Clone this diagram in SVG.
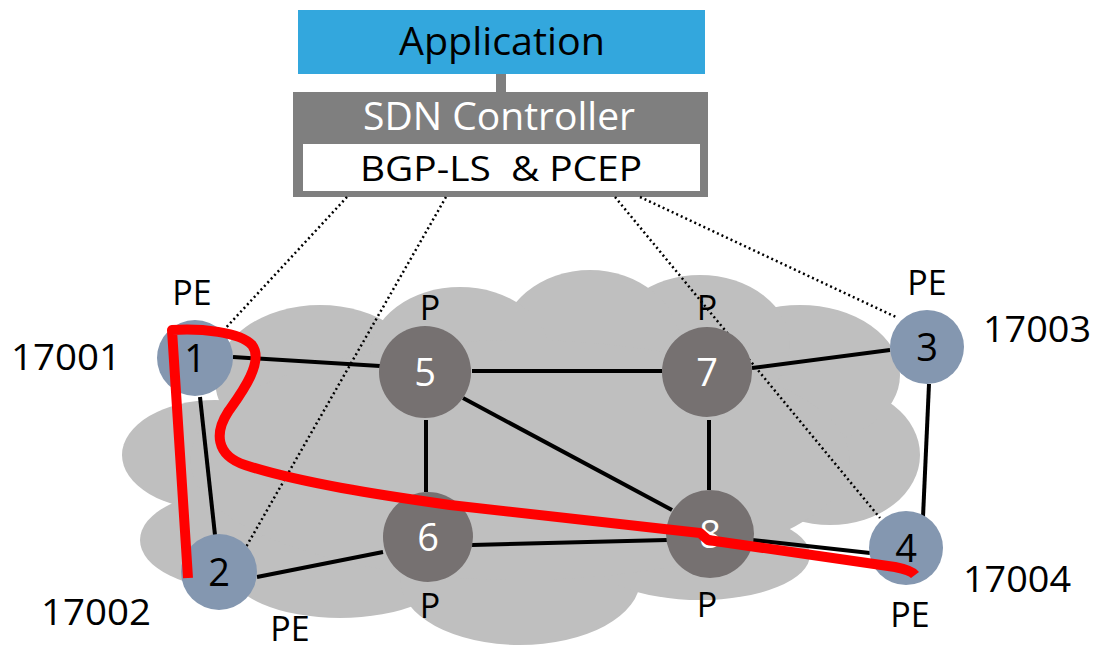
<svg xmlns="http://www.w3.org/2000/svg" width="1101" height="649" viewBox="0 0 1101 649">
  <style>
    .lbl { font-family: "Open Sans", "Liberation Sans", sans-serif; fill: #000; text-anchor: middle; }
    .num { font-size: 36px; }
    .role { font-size: 34px; }
    .pe circle { fill: #8497b0; }
    .p circle { fill: #767171; }
    .pe text { font-family: "Open Sans", "Liberation Sans", sans-serif; font-size: 38px; fill: #000; text-anchor: middle; }
    .p text { font-family: "Open Sans", "Liberation Sans", sans-serif; font-size: 38px; fill: #fff; text-anchor: middle; }
    .link { stroke: #000; stroke-width: 4; fill: none; }
    .mgmt { stroke: #000; stroke-width: 2.5; stroke-dasharray: 2 3; fill: none; }
  </style>

  <rect width="1101" height="649" fill="#fff"/>

  <!-- provider network cloud -->
  <g id="cloud" fill="#bfbfbf">
    <ellipse cx="320" cy="380" rx="105" ry="75"/>
    <ellipse cx="215" cy="455" rx="93" ry="55"/>
    <ellipse cx="240" cy="540" rx="100" ry="50"/>
    <ellipse cx="340" cy="570" rx="110" ry="48"/>
    <ellipse cx="520" cy="580" rx="120" ry="65"/>
    <ellipse cx="700" cy="555" rx="110" ry="45"/>
    <ellipse cx="830" cy="455" rx="90" ry="70"/>
    <ellipse cx="800" cy="375" rx="100" ry="70"/>
    <ellipse cx="700" cy="345" rx="90" ry="70"/>
    <ellipse cx="590" cy="345" rx="90" ry="75"/>
    <ellipse cx="460" cy="355" rx="90" ry="68"/>
    <ellipse cx="520" cy="460" rx="330" ry="120"/>
  </g>

  <!-- controller stack -->
  <g id="application">
    <rect x="298" y="10" width="407" height="64" fill="#33a7dd"/>
    <text x="502" y="55" font-family="Open Sans, Liberation Sans, sans-serif" font-size="39" text-anchor="middle" fill="#000" textLength="206" lengthAdjust="spacingAndGlyphs">Application</text>
  </g>
  <rect id="api-link" x="496" y="74" width="10" height="18" fill="#7f7f7f"/>
  <g id="controller">
    <rect x="293" y="92" width="415" height="105" fill="#7f7f7f"/>
    <rect x="303" y="144" width="397" height="47" fill="#fff"/>
    <text x="499" y="130" font-family="Open Sans, Liberation Sans, sans-serif" font-size="38" text-anchor="middle" fill="#fff" textLength="272" lengthAdjust="spacingAndGlyphs">SDN Controller</text>
    <text x="501" y="181" font-family="Open Sans, Liberation Sans, sans-serif" font-size="35" text-anchor="middle" fill="#000" style="white-space:pre" textLength="282" lengthAdjust="spacingAndGlyphs">BGP-LS  &amp; PCEP</text>
  </g>

  <!-- connectors: BGP-LS/PCEP sessions and physical links -->
  <g id="connectors">
    <line class="mgmt" x1="347" y1="197" x2="222" y2="332"/>
    <line class="mgmt" x1="446" y1="197" x2="246" y2="547"/>
    <line class="mgmt" x1="615" y1="197" x2="880" y2="518"/>
    <line class="mgmt" x1="640" y1="197" x2="898" y2="318"/>

    <line class="link" x1="233" y1="357" x2="380" y2="366"/>
    <line class="link" x1="200" y1="397" x2="215" y2="535"/>
    <line class="link" x1="257" y1="577" x2="383" y2="552"/>
    <line class="link" x1="472" y1="371" x2="662" y2="371"/>
    <line class="link" x1="752" y1="368" x2="890" y2="350"/>
    <line class="link" x1="426" y1="420" x2="426" y2="492"/>
    <line class="link" x1="709" y1="420" x2="709" y2="490"/>
    <line class="link" x1="463" y1="398" x2="672" y2="510"/>
    <line class="link" x1="472" y1="545" x2="667" y2="540"/>
    <line class="link" x1="752" y1="540" x2="870" y2="553"/>
    <line class="link" x1="929" y1="384" x2="923" y2="517"/>
  </g>

  <!-- routers -->
  <g id="node1" class="pe">
    <circle cx="195" cy="358" r="38"/>
    <text x="195" y="372">1</text>
  </g>
  <g id="node2" class="pe">
    <circle cx="219" cy="572" r="38"/>
    <text x="219" y="586">2</text>
  </g>
  <g id="node3" class="pe">
    <circle cx="927" cy="347" r="37"/>
    <text x="927" y="361">3</text>
  </g>
  <g id="node4" class="pe">
    <circle cx="906" cy="548" r="37"/>
    <text x="906" y="562">4</text>
  </g>
  <g id="node5" class="p">
    <circle cx="425" cy="372" r="46"/>
    <text x="425" y="386">5</text>
  </g>
  <g id="node6" class="p">
    <circle cx="428" cy="537" r="45"/>
    <text x="428" y="551">6</text>
  </g>
  <g id="node7" class="p">
    <circle cx="707" cy="372" r="45"/>
    <text x="707" y="386">7</text>
  </g>
  <g id="node8" class="p">
    <circle cx="710" cy="534" r="44"/>
    <text x="710" y="548">8</text>
  </g>

  <!-- role and SID labels -->
  <g id="labels" class="lbl">
    <text class="role" x="192" y="305">PE</text>
    <text class="num" x="66" y="370" textLength="110" lengthAdjust="spacingAndGlyphs">17001</text>
    <text class="num" x="96" y="625" textLength="110" lengthAdjust="spacingAndGlyphs">17002</text>
    <text class="role" x="290" y="641">PE</text>
    <text class="role" x="430" y="320">P</text>
    <text class="role" x="707" y="320">P</text>
    <text class="role" x="430" y="618">P</text>
    <text class="role" x="707" y="617">P</text>
    <text class="role" x="927" y="295">PE</text>
    <text class="num" x="1037" y="342" textLength="108" lengthAdjust="spacingAndGlyphs">17003</text>
    <text class="num" x="1017" y="592" textLength="108" lengthAdjust="spacingAndGlyphs">17004</text>
    <text class="role" x="910" y="627">PE</text>
  </g>

  <!-- SR path -->
  <path id="sr-path" d="M188,578 L172,330 C200,328 240,332 252,345 C265,362 240,395 228,412 C215,432 215,455 245,465 C300,483 380,495 450,505 L700,533 L708,540 L895,567 C905,569 912,571 915,575" fill="none" stroke="#ff0000" stroke-width="10" stroke-linejoin="round"/>
</svg>
